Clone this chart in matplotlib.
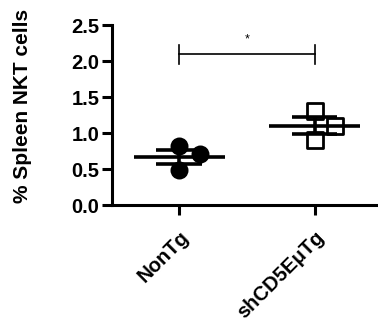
import numpy as np
import matplotlib
matplotlib.use('Agg')
import matplotlib.pyplot as plt

plt.rcParams['font.family'] = ['Liberation Sans', 'DejaVu Sans']

groups = ['NonTg', 'shCD5E\u03bcTg']
nontg_vals = [0.82, 0.49, 0.71]
shcd5_vals = [1.31, 0.90, 1.10]
jitter = [0.0, 0.0, 0.15]
sig_label = '*'

fig = plt.figure(figsize=(3.78, 3.22), dpi=100)
ax = fig.add_axes([0.296, 0.363, 0.704, 0.559])

for i, (vals, marker, face) in enumerate([(nontg_vals, 'o', 'black'),
                                          (shcd5_vals, 's', 'white')]):
    vals = np.array(vals)
    xs = i + np.array(jitter)
    ax.scatter(xs, vals, marker=marker, s=120 if marker == 'o' else 130,
               facecolor=face, edgecolor='black', linewidth=2, zorder=3)
    m = vals.mean()
    sem = vals.std(ddof=1) / np.sqrt(len(vals))
    ax.hlines(m, i - 0.34, i + 0.34, color='black', lw=2.6, zorder=4)
    ax.hlines([m - sem, m + sem], i - 0.17, i + 0.17, color='black', lw=2.6, zorder=4)
    ax.vlines(i, m - sem, m + sem, color='black', lw=2.6, zorder=4)

# significance bar
ax.plot([0, 1], [2.10, 2.10], color='black', lw=1.2)
ax.plot([0, 0], [1.96, 2.23], color='black', lw=1.2)
ax.plot([1, 1], [1.96, 2.23], color='black', lw=1.2)
ax.text(0.5, 2.30, sig_label, ha='center', va='center', fontsize=9)

ax.set_xlim(-0.5, 1.47)
ax.set_ylim(0, 2.5)
ax.set_yticks([0, 0.5, 1.0, 1.5, 2.0, 2.5])
ax.set_yticklabels(['0.0', '0.5', '1.0', '1.5', '2.0', '2.5'], fontsize=14.5, fontweight='bold')
ax.set_xticks([0, 1])
ax.set_xticklabels(groups, fontsize=14.5, fontweight='bold', rotation=45,
                   ha='right', va='top', rotation_mode='anchor')
ax.set_ylabel('% Spleen NKT cells', fontsize=15, fontweight='bold')
ax.yaxis.set_label_coords(-0.30, 0.55)

for side in ['top', 'right']:
    ax.spines[side].set_visible(False)
for side in ['left', 'bottom']:
    ax.spines[side].set_linewidth(2.2)
ax.tick_params(width=2.2, length=7, pad=2)
ax.tick_params(axis='x', pad=9)
ax.set_clip_on(False)

fig.savefig('out.png', dpi=100)
